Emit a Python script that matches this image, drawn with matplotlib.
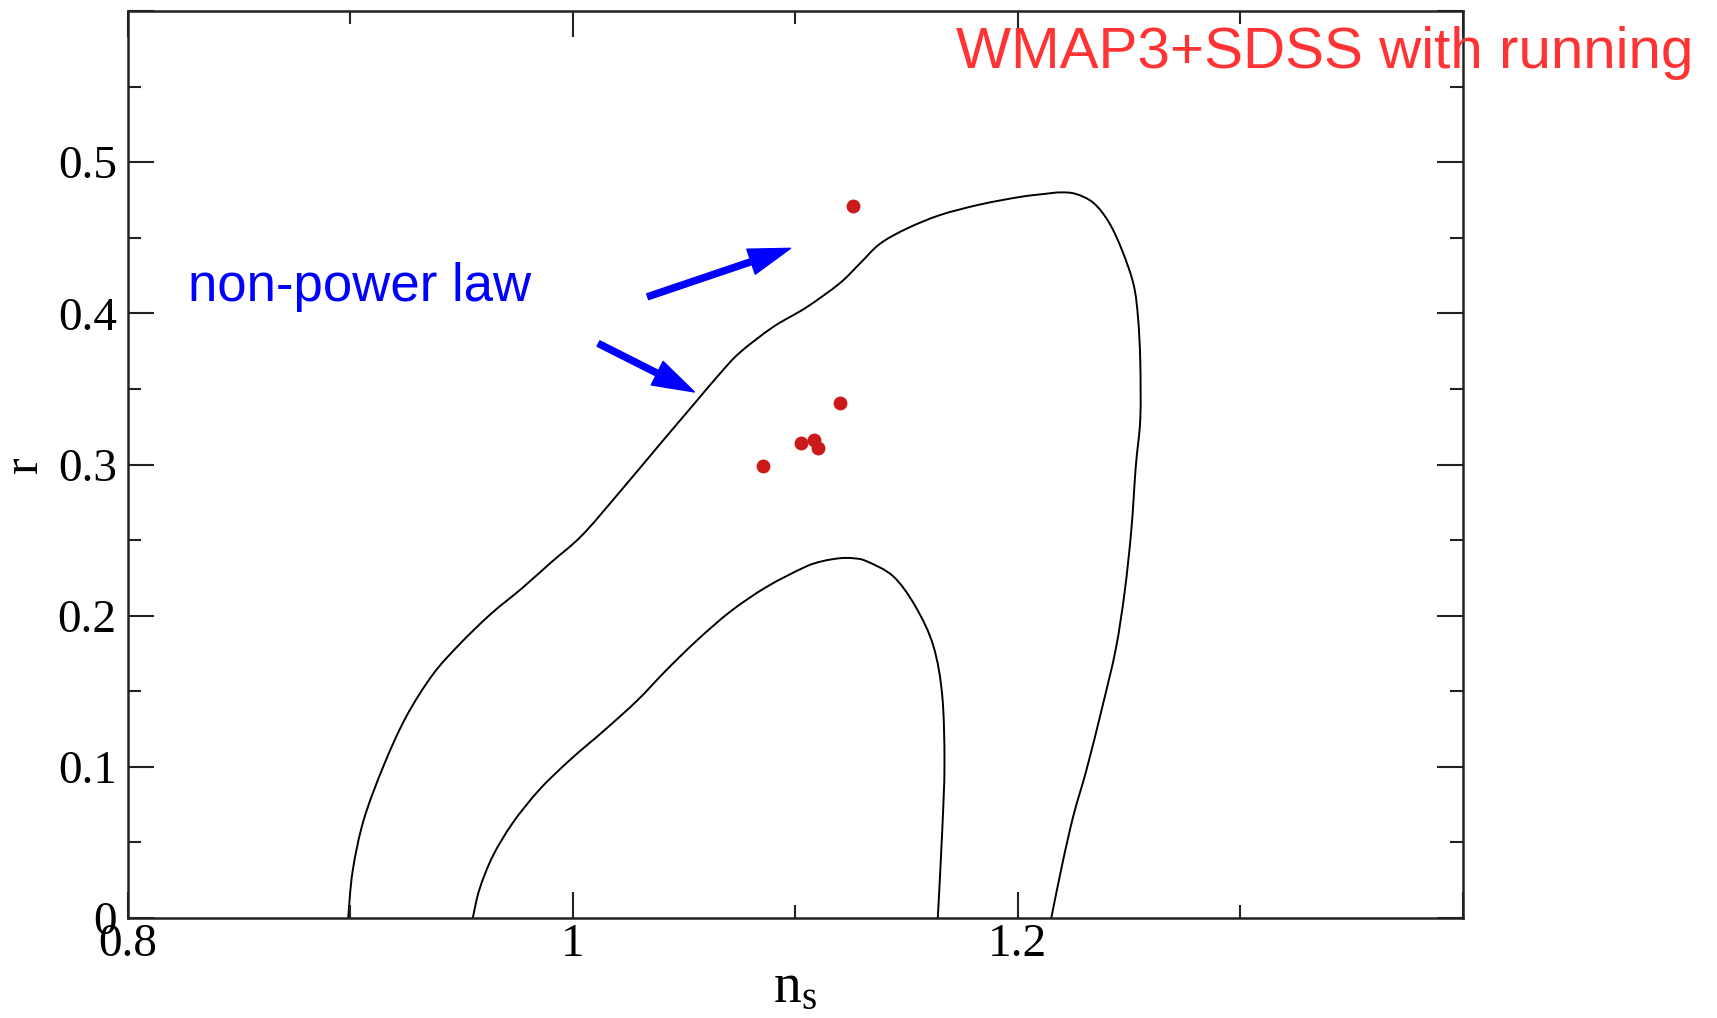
import matplotlib
matplotlib.use('Agg')
import numpy as np
import matplotlib.pyplot as plt
from matplotlib.path import Path
from matplotlib.patches import PathPatch
from matplotlib.ticker import MultipleLocator

# outer likelihood contour in the (n_s, r) plane
outer_ns = [0.899, 0.901, 0.906, 0.915, 0.925, 0.937, 0.949, 0.963, 0.977, 0.990,
            1.004, 1.020, 1.040, 1.055, 1.066, 1.075, 1.090, 1.105, 1.120, 1.129,
            1.138, 1.150, 1.165, 1.183, 1.201, 1.212, 1.219, 1.226, 1.234, 1.241,
            1.247, 1.252, 1.254, 1.255, 1.255, 1.253, 1.251, 1.248, 1.244, 1.238,
            1.231, 1.225, 1.220, 1.215]
outer_r = [0.000, 0.031, 0.065, 0.101, 0.133, 0.161, 0.181, 0.201, 0.218, 0.235,
           0.253, 0.280, 0.315, 0.341, 0.360, 0.374, 0.391, 0.404, 0.420, 0.433,
           0.446, 0.456, 0.465, 0.472, 0.477, 0.479, 0.480, 0.479, 0.473, 0.460,
           0.441, 0.419, 0.397, 0.368, 0.330, 0.299, 0.257, 0.216, 0.178, 0.140,
           0.099, 0.068, 0.036, 0.000]

# inner contour
inner_ns = [0.955, 0.958, 0.964, 0.973, 0.985, 0.999, 1.014, 1.029, 1.042, 1.056,
            1.071, 1.087, 1.104, 1.112, 1.120, 1.126, 1.132, 1.144, 1.154, 1.162,
            1.166, 1.167, 1.166, 1.164]
inner_r = [0.000, 0.019, 0.041, 0.063, 0.085, 0.105, 0.124, 0.144, 0.164, 0.184,
           0.203, 0.219, 0.232, 0.236, 0.238, 0.238, 0.236, 0.226, 0.206, 0.180,
           0.147, 0.102, 0.058, 0.000]

# non-power-law model points
model_ns = [1.1257, 1.1200, 1.1025, 1.1083, 1.1103, 1.0855]
model_r = [0.471, 0.341, 0.3145, 0.316, 0.311, 0.299]

x_ticks = [0.8, 1.0, 1.2, 1.4]
x_ticklabels = ['0.8', '1', '1.2', '']
y_ticks = [0.0, 0.1, 0.2, 0.3, 0.4, 0.5, 0.6]
y_ticklabels = ['0', '0.1', '0.2', '0.3', '0.4', '0.5', '']


def smooth_path(xs, ys):
    # Catmull-Rom through the points, written as cubic Bezier segments
    p = np.column_stack([xs, ys])
    ext = np.vstack([p[0], p, p[-1]])
    verts = [p[0]]
    codes = [Path.MOVETO]
    for i in range(1, len(ext) - 2):
        p0, p1, p2, p3 = ext[i - 1], ext[i], ext[i + 1], ext[i + 2]
        verts += [p1 + (p2 - p0) / 6, p2 - (p3 - p1) / 6, p2]
        codes += [Path.CURVE4] * 3
    return Path(verts, codes)


plt.rcParams['mathtext.fontset'] = 'custom'
plt.rcParams['mathtext.rm'] = 'Liberation Serif'
plt.rcParams['mathtext.it'] = 'Liberation Serif:italic'

fig = plt.figure(figsize=(17.17, 10.18), dpi=100)
ax = fig.add_axes([0.0745, 0.0982, 0.7775, 0.8910])

for xs, ys in [(outer_ns, outer_r), (inner_ns, inner_r)]:
    ax.add_patch(PathPatch(smooth_path(xs, ys), fill=False, ec='black', lw=1.4))
ax.scatter(model_ns, model_r, s=100, color='#cc1a1a', linewidths=0, zorder=3)

ax.set_xlim(0.8, 1.4)
ax.set_ylim(0, 0.6)
ax.set_xticks(x_ticks)
ax.set_xticklabels(x_ticklabels)
ax.set_yticks(y_ticks)
ax.set_yticklabels(y_ticklabels)
ax.xaxis.set_minor_locator(MultipleLocator(0.1))
ax.yaxis.set_minor_locator(MultipleLocator(0.05))

ax.tick_params(which='both', direction='in', top=True, right=True,
               width=1.5, color='#222222', labelsize=34,
               labelfontfamily='Liberation Serif')
ax.tick_params(which='major', length=19)
ax.tick_params(which='minor', length=9.5)
ax.tick_params(axis='x', pad=4)
ax.tick_params(axis='y', pad=8)
for sp in ax.spines.values():
    sp.set_linewidth(1.8)
    sp.set_color('#222222')

ax.set_xlabel(r'$\mathrm{n_s}$', fontsize=40)
ax.xaxis.set_label_coords(0.5, -0.046)
ax.set_ylabel('r', fontsize=36, family='Liberation Serif')
ax.yaxis.set_label_coords(-0.06, 0.5)

# arrows pointing at the edge of the contour
arrow_style = 'simple,head_length=1.5,head_width=0.95,tail_width=0.22'
ax.annotate('', xy=(1.0978, 0.443), xytext=(1.0336, 0.411),
            arrowprops=dict(arrowstyle=arrow_style, color='#0000ff',
                            mutation_scale=20, shrinkA=0, shrinkB=0))
ax.annotate('', xy=(1.0546, 0.348), xytext=(1.0115, 0.380),
            arrowprops=dict(arrowstyle=arrow_style, color='#0000ff',
                            mutation_scale=20, shrinkA=0, shrinkB=0))

ax.text(0.827, 0.408, 'non-power law', color='#0000ff', fontsize=38,
        family='Liberation Sans', va='baseline')
fig.text(0.5568, 0.9332, 'WMAP3+SDSS with running', color='#ff3333',
         fontsize=42, family='Liberation Sans', va='baseline')

fig.savefig('out.png', dpi=100)
